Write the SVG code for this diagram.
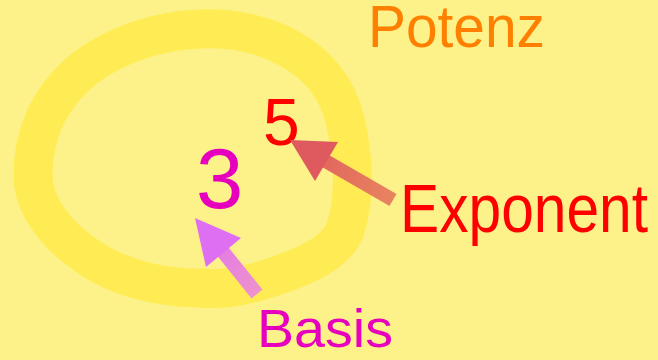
<svg xmlns="http://www.w3.org/2000/svg" width="658" height="360" viewBox="0 0 658 360">
  <defs>
    <linearGradient id="gExp" gradientUnits="userSpaceOnUse" x1="290" y1="140" x2="393" y2="200">
      <stop offset="0" stop-color="#DE5A5E"/>
      <stop offset="1" stop-color="#E8845E"/>
    </linearGradient>
    <linearGradient id="gBas" gradientUnits="userSpaceOnUse" x1="195" y1="218" x2="257" y2="294">
      <stop offset="0" stop-color="#DE6EF2"/>
      <stop offset="1" stop-color="#EE92CC"/>
    </linearGradient>
    <style>
      .lbl { font-family: "Liberation Sans", Arial, sans-serif; }
      .ring { fill: none; stroke: #FFEC55; stroke-width: 39; }
    </style>
  </defs>
  <rect x="0" y="0" width="658" height="360" fill="#FDF28A"/>

  <g id="ring">
    <path class="ring" d="M200,29 C262,26 330,55 345,120 C352,150 358,190 345,230 C335,255 300,268 270,278 C245,286 220,290 200,288 C160,288 120,278 90,258 C55,235 33,205 33,175 C33,140 45,100 85,68 C115,45 160,30 200,29 Z"/>
  </g>

  <g id="potenz">
    <text class="lbl" x="368" y="47" font-size="60" fill="#FF8000" textLength="177" lengthAdjust="spacingAndGlyphs">Potenz</text>
  </g>

  <g id="base-3">
    <text class="lbl" x="196" y="208" font-size="85" fill="#E600BE">3</text>
  </g>

  <g id="exponent-5">
    <text class="lbl" x="263" y="145" font-size="66" fill="#FF0000">5</text>
  </g>

  <g id="label-exponent">
    <text class="lbl" x="400" y="232" font-size="68" fill="#FF0000" textLength="248" lengthAdjust="spacingAndGlyphs">Exponent</text>
  </g>

  <g id="label-basis">
    <text class="lbl" x="257" y="347" font-size="54" fill="#E600BE" textLength="136" lengthAdjust="spacingAndGlyphs">Basis</text>
  </g>

  <g id="connectors">
    <g id="arrow-exponent">
      <line x1="393" y1="200" x2="322" y2="159" stroke="url(#gExp)" stroke-width="14"/>
      <polygon points="290,140 338,142 315,181" fill="#DE5A5E"/>
    </g>
    <g id="arrow-basis">
      <line x1="257" y1="294" x2="220" y2="248" stroke="url(#gBas)" stroke-width="14"/>
      <polygon points="195,218 241,238 206,267" fill="#DE6EF2"/>
    </g>
  </g>
</svg>
